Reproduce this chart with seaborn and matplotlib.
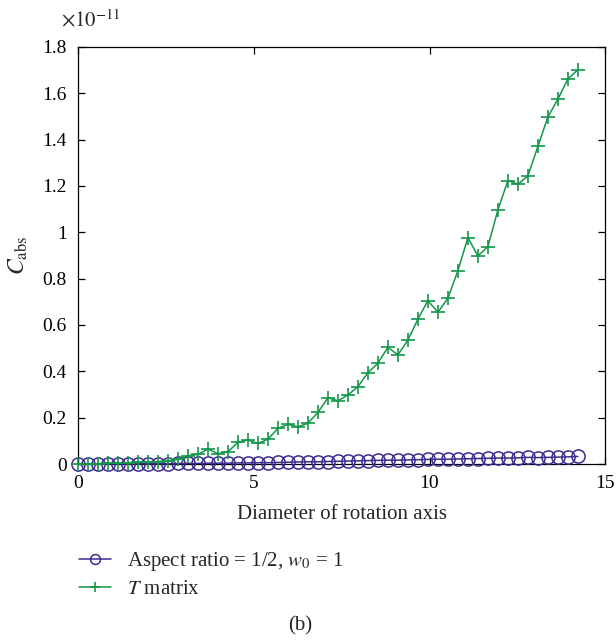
import numpy as np
import pandas as pd
import matplotlib
matplotlib.use("Agg")
import matplotlib.pyplot as plt
import seaborn as sns
from matplotlib.ticker import FuncFormatter, MultipleLocator

# Diameter of rotation axis (51 samples)
diameter = [round(i * 0.2844, 4) for i in range(51)]

# Absorption cross-section, in units of 1e-11
c_abs_aspect = [0.000, 0.000, 0.001, 0.001, 0.001, 0.001, 0.002, 0.002, 0.002, 0.002,
                0.003, 0.003, 0.003, 0.004, 0.004, 0.004, 0.005, 0.005, 0.006, 0.006,
                0.007, 0.008, 0.009, 0.010, 0.010, 0.011, 0.012, 0.013, 0.014, 0.015,
                0.016, 0.017, 0.017, 0.018, 0.019, 0.020, 0.021, 0.021, 0.022, 0.023,
                0.024, 0.025, 0.026, 0.026, 0.027, 0.029, 0.028, 0.029, 0.030, 0.031,
                0.033]
c_abs_tmatrix = [0.000, 0.001, 0.002, 0.003, 0.004, 0.005, 0.007, 0.009, 0.011, 0.014,
                 0.020, 0.036, 0.042, 0.065, 0.045, 0.053, 0.094, 0.104, 0.089, 0.107,
                 0.154, 0.171, 0.161, 0.176, 0.223, 0.286, 0.273, 0.298, 0.334, 0.394,
                 0.435, 0.504, 0.471, 0.535, 0.625, 0.705, 0.655, 0.715, 0.834, 0.977,
                 0.898, 0.938, 1.096, 1.223, 1.207, 1.243, 1.370, 1.497, 1.574, 1.661,
                 1.701]

series_labels = ["Aspect ratio = 1/2, $w_0$ = 1", "$T$ matrix"]
x_ticks = [0, 5, 10, 15]

sns.set_theme(style="white")
plt.rcParams["font.family"] = ["Liberation Serif", "DejaVu Serif"]
plt.rcParams["mathtext.fontset"] = "stix"

df_a = pd.DataFrame({"d": diameter, "c": c_abs_aspect})
df_t = pd.DataFrame({"d": diameter, "c": c_abs_tmatrix})

fig = plt.figure(figsize=(6.16, 6.41), dpi=100)
ax = fig.add_axes([0.1266, 0.276, 0.856, 0.651])

blue = "#3b2c8e"
green = "#13964a"

sns.lineplot(data=df_a, x="d", y="c", ax=ax, color=blue, lw=1.1,
             marker="o", markersize=9.5, markerfacecolor="none",
             markeredgecolor=blue, markeredgewidth=1.1, label=series_labels[0],
             legend=False, clip_on=False, zorder=3)
sns.lineplot(data=df_t, x="d", y="c", ax=ax, color=green, lw=1.1,
             marker="+", markersize=9.5, markeredgewidth=1.2,
             markeredgecolor=green, label=series_labels[1], legend=False,
             clip_on=False, zorder=4)

ax.set_xlim(0, 15)
ax.set_ylim(0, 1.8)
ax.set_xticks(x_ticks)
ax.yaxis.set_major_locator(MultipleLocator(0.2))
fmt = FuncFormatter(lambda v, p: f"{v:.1f}".rstrip("0").rstrip(".") if v != 0 else "0")
ax.yaxis.set_major_formatter(fmt)
ax.xaxis.set_major_formatter(FuncFormatter(lambda v, p: f"{v:g}"))

for s in ax.spines.values():
    s.set_color("black")
    s.set_linewidth(0.9)
ax.tick_params(direction="in", length=5, width=0.9, top=True, right=True,
               bottom=True, left=True, labelsize=14, colors="black")
ax.tick_params(axis="y", pad=8)
ax.tick_params(axis="x", pad=8)

ax.set_xlabel("Diameter of rotation axis", fontsize=15, labelpad=9)
ax.set_ylabel(r"$C_{\mathrm{abs}}$", fontsize=17, labelpad=9)

fig.text(0.099, 0.968, r"$\times 10^{-11}$", fontsize=15, ha="left", va="center")

handles, labels = ax.get_legend_handles_labels()
fig.legend(handles, labels, loc="upper left", bbox_to_anchor=(0.115, 0.155),
           frameon=False, fontsize=15, handlelength=1.55, handletextpad=0.75,
           labelspacing=0.3, borderaxespad=0, markerscale=0.75)

fig.text(0.487, 0.023, "(b)", fontsize=15, ha="center", va="center")

fig.savefig("out.png", dpi=100, facecolor="white")
